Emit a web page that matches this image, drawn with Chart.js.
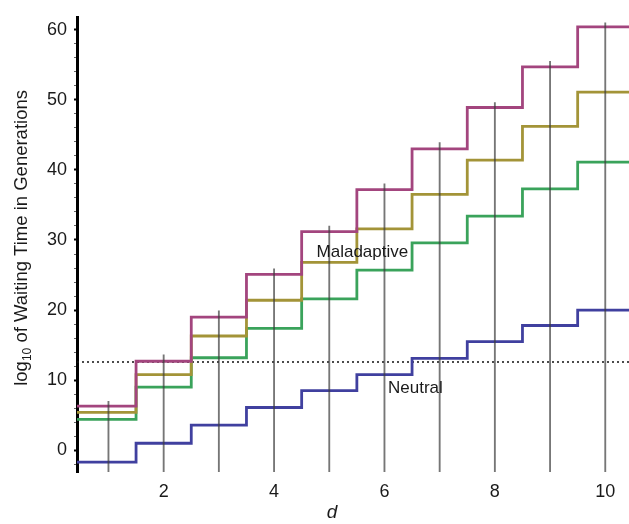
<!DOCTYPE html>
<html>
<head>
<meta charset="utf-8">
<script src="https://cdn.jsdelivr.net/npm/chart.js@4"></script>
<style>
  body { margin: 0; background: #fff; }
  #wrap { width: 629px; height: 524px; }
</style>
</head>
<body>
<div id="wrap"><canvas id="waitChart"></canvas></div>
<script>
// values
const dValues = [1, 2, 3, 4, 5, 6, 7, 8, 9, 10];
const maladaptiveHigh = [6.3, 12.7, 19.0, 25.1, 31.2, 37.2, 43.0, 48.9, 54.7, 60.4];
const maladaptiveMid = [5.4, 10.8, 16.3, 21.4, 26.8, 31.6, 36.5, 41.4, 46.2, 51.1];
const maladaptiveLow = [4.4, 9.0, 13.2, 17.4, 21.6, 25.7, 29.6, 33.4, 37.3, 41.1];
const neutral = [-1.7, 1.0, 3.6, 6.1, 8.5, 10.8, 13.1, 15.5, 17.8, 20.0];
const markerTops = [7.0, 13.6, 19.9, 25.9, 32.0, 38.0, 43.9, 49.6, 55.5, 61.0];
const threshold = 12.6;
const xTicks = [2, 4, 6, 8, 10];
const yTicks = [0, 10, 20, 30, 40, 50, 60];

const xMin = 0.43, xMax = 10.43;
const yMin = -3.1, yMax = 61.7;
const font = '"Liberation Sans", Arial, Helvetica, sans-serif';

// pad each series at both ends so the steps run to the plot edges
function steps(values) {
    const pts = dValues.map((d, i) => ({ x: d, y: values[i] }));
    pts.unshift({ x: dValues[0] - 1, y: values[0] });
    pts.push({ x: dValues[dValues.length - 1] + 1, y: values[values.length - 1] });
    return pts;
}

function stepSet(values, color) {
    return {
        type: 'line',
        data: steps(values),
        borderColor: color,
        borderWidth: 2.8,
        stepped: 'middle',
        pointRadius: 0,
        borderJoinStyle: 'miter',
        borderCapStyle: 'butt',
        order: 1
    };
}

const textLabels = [
    { text: 'Maladaptive', x: 5.6, y: 28.3 },
    { text: 'Neutral', x: 6.56, y: 8.9 }
];

const labelsPlugin = {
    id: 'labels',
    afterDraw(chart) {
        const c = chart.ctx;
        const xs = chart.scales.x, ys = chart.scales.y;
        const a = chart.chartArea;
        c.save();
        c.fillStyle = '#1a1a1a';
        c.font = '17px ' + font;
        c.textAlign = 'center';
        c.textBaseline = 'middle';
        textLabels.forEach(l => {
            c.fillText(l.text, xs.getPixelForValue(l.x), ys.getPixelForValue(l.y));
        });

        // x title, sits left of centre in the original
        c.font = 'italic 19px ' + font;
        c.fillText('d', a.left + 255, a.bottom + 41);

        // y title with subscript
        c.translate(20, (a.top + a.bottom) / 2 - 7);
        c.rotate(-Math.PI / 2);
        c.textAlign = 'left';
        c.textBaseline = 'alphabetic';
        const big = '18.5px ' + font, small = '12px ' + font;
        c.font = big;
        const w1 = c.measureText('log').width;
        const w3 = c.measureText(' of Waiting Time in Generations').width;
        c.font = small;
        const w2 = c.measureText('10').width;
        let x = -(w1 + w2 + w3) / 2;
        c.font = big;
        c.fillText('log', x, 7);
        x += w1;
        c.font = small;
        c.fillText('10', x, 11);
        x += w2;
        c.font = big;
        c.fillText(' of Waiting Time in Generations', x, 7);
        c.restore();
    }
};

const ctx = document.getElementById('waitChart').getContext('2d');
new Chart(ctx, {
    type: 'line',
    data: {
        datasets: [
            {
                type: 'bar',
                data: dValues.map((d, i) => ({ x: d, y: [yMin, markerTops[i]] })),
                backgroundColor: 'rgba(60,60,60,0.7)',
                barThickness: 1.2,
                order: 0
            },
            stepSet(maladaptiveHigh, '#a3457e'),
            stepSet(maladaptiveMid, '#a39438'),
            stepSet(maladaptiveLow, '#3aa35b'),
            stepSet(neutral, '#40409f'),
            {
                type: 'line',
                data: [{ x: xMin, y: threshold }, { x: xMax, y: threshold }],
                borderColor: '#111',
                borderWidth: 1.5,
                borderDash: [2, 3],
                pointRadius: 0,
                order: 1
            }
        ]
    },
    options: {
        responsive: true,
        maintainAspectRatio: false,
        animation: false,
        layout: { padding: { top: 10, right: 0, left: 0, bottom: 0 } },
        plugins: {
            legend: { display: false },
            tooltip: { enabled: false }
        },
        scales: {
            x: {
                type: 'linear',
                offset: false,
                min: xMin,
                max: xMax,
                afterBuildTicks: s => { s.ticks = xTicks.map(v => ({ value: v })); },
                afterFit: s => { s.height = 52; },
                border: { display: false },
                grid: { display: false, tickLength: 0 },
                ticks: {
                    color: '#1a1a1a',
                    font: { family: font, size: 18 },
                    padding: 9
                }
            },
            y: {
                min: yMin,
                max: yMax,
                afterBuildTicks: s => {
                    const t = [];
                    for (let v = -2; v <= yTicks[yTicks.length - 1]; v += 2) t.push({ value: v });
                    s.ticks = t;
                },
                afterFit: s => { s.width = 77; },
                border: { display: true, color: '#000', width: 3 },
                grid: {
                    drawOnChartArea: false,
                    tickLength: 3,
                    tickWidth: c => (yTicks.includes(c.tick.value) ? 2 : 1),
                    tickColor: c => (yTicks.includes(c.tick.value) ? '#000' : '#666')
                },
                ticks: {
                    color: '#1a1a1a',
                    font: { family: font, size: 18 },
                    padding: 7,
                    autoSkip: false,
                    callback: v => (yTicks.includes(v) ? v : '')
                }
            }
        }
    },
    plugins: [labelsPlugin]
});
</script>
</body>
</html>
